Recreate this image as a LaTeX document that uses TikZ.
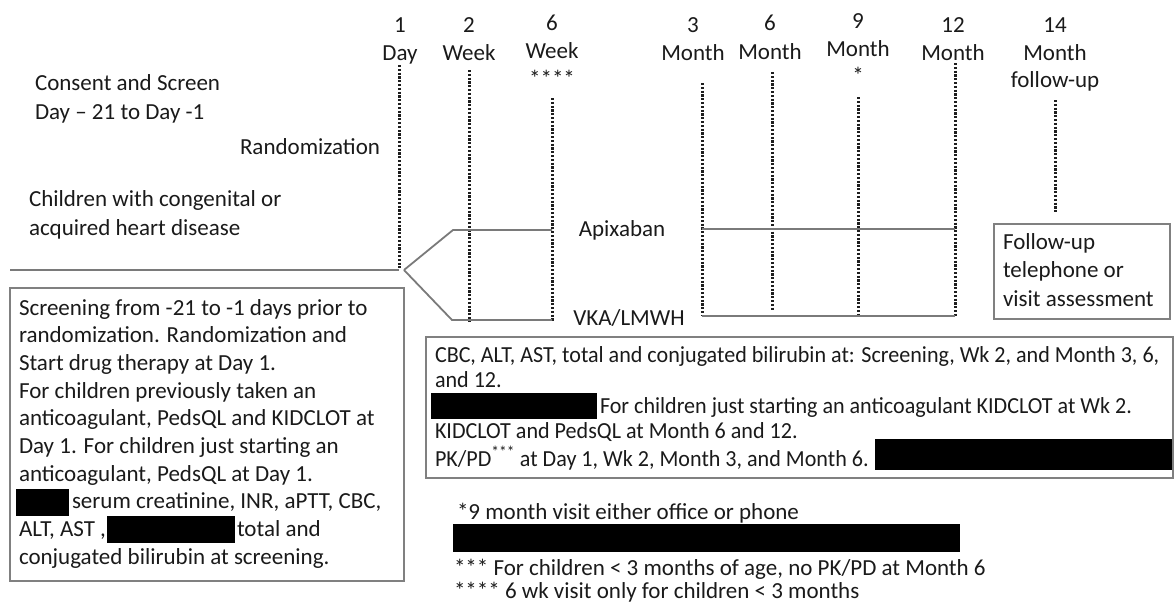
\documentclass[tikz,border=0pt]{standalone}
\usepackage{fontspec}
\setmainfont{Carlito}
\newfontfamily\condfont[FakeStretch=0.96]{Carlito}
\definecolor{ink}{HTML}{1A1A1A}
\definecolor{armc}{HTML}{7A7A7A}
\definecolor{dotc}{HTML}{1E1E1E}
\definecolor{boxc}{HTML}{808080}
\tikzset{
  txt/.style={inner sep=0pt, outer sep=0pt, text=ink},
  lbl/.style={txt, anchor=base, font=\fontsize{23}{27.7}\selectfont},
  lft/.style={txt, anchor=base west},
  visit/.style={draw=dotc, line width=3pt, dash pattern=on 2.2pt off 1.6pt},
  arm/.style={draw=armc, line width=1.8pt},
  box/.style={draw=boxc, line width=1.8pt, inner sep=0pt, anchor=north west},
  redact/.style={fill=black},
}
\begin{document}
\begin{tikzpicture}[x=1pt,y=-1pt]
\useasboundingbox (0,0) rectangle (1174,605);

% timepoint labels
\node[lbl] (d1n) at (400,32) {1};
\node[lbl] (d1w) at (400,60) {Day};
\node[lbl] (w2n) at (469,32) {2};
\node[lbl] (w2w) at (469,60) {Week};
\node[lbl] (w6n) at (552,30) {6};
\node[lbl] (w6w) at (552,58) {Week};
\node[lbl] (w6s) at (552,86) {****};
\node[lbl] (m3n) at (693,32) {3};
\node[lbl] (m3w) at (693,60) {Month};
\node[lbl] (m6n) at (770,30) {6};
\node[lbl] (m6w) at (770,59) {Month};
\node[lbl] (m9n) at (858,28) {9};
\node[lbl] (m9w) at (858,56) {Month};
\node[lbl] (m9s) at (858,83) {*};
\node[lbl] (m12n) at (953,32) {12};
\node[lbl] (m12w) at (953,60) {Month};
\node[lbl] (m14n) at (1055,32) {14};
\node[lbl] (m14w) at (1055,60) {Month};
\node[lbl] (m14f) at (1055,87) {follow-up};

% left texts
\node[lft, font=\fontsize{23}{29}\selectfont] (consent) at (35,90)
  {\begin{tabular}[t]{@{}l@{}}Consent and Screen\\Day – 21 to Day -1\end{tabular}};
\node[lft, font=\fontsize{23}{29}\selectfont] (rand) at (240,154) {Randomization};
\node[lft, font=\fontsize{23}{29}\selectfont] (pop) at (29,206)
  {\begin{tabular}[t]{@{}l@{}}Children with congenital or\\acquired heart disease\end{tabular}};

% visit lines
\coordinate (d1t) at (399,65);   \coordinate (d1b) at (399,268);
\coordinate (w2t) at (469,70);   \coordinate (w2b) at (469,322);
\coordinate (w6t) at (552,98);   \coordinate (w6b) at (552,321);
\coordinate (m3t) at (702,83);   \coordinate (m3b) at (702,316);
\coordinate (m6t) at (772,72);   \coordinate (m6b) at (772,311);
\coordinate (m9t) at (858,97);   \coordinate (m9b) at (858,316);
\coordinate (m12t) at (955,63);  \coordinate (m12b) at (955,316);
\coordinate (m14t) at (1055,100); \coordinate (m14b) at (1055,212);
\foreach \v in {d1,w2,w6,m3,m6,m9,m12,m14} \draw[visit] (\v t) -- (\v b);

% arms
\coordinate (start) at (10,270);
\coordinate (mainend) at (399,270);
\coordinate (split) at (404,270);
\coordinate (au) at (453,230);
\coordinate (ae) at (552,230);
\coordinate (vd) at (452,320);
\coordinate (ve) at (552,320);
\coordinate (a2s) at (702,229);
\coordinate (a2e) at (955,229);
\coordinate (v2s) at (702,316);
\coordinate (v2e) at (955,316);
\draw[arm] (start) -- (mainend);
\draw[arm] (split) -- (au) -- (ae);
\draw[arm] (split) -- (vd) -- (ve);
\draw[arm] (a2s) -- (a2e);
\draw[arm] (v2s) -- (v2e);
\node[lbl] (apix) at (622,236) {Apixaban};
\node[lbl] (vka) at (629,325) {VKA/LMWH};

% boxes
\node[box, minimum width=394pt, minimum height=293pt] (scrbox) at (9,287) {};
\node[box, minimum width=747pt, minimum height=141pt] (labbox) at (425,336) {};
\node[box, minimum width=176pt, minimum height=95pt] (fubox) at (993,223) {};

% redactions
\fill[redact] (16,489) rectangle (69,516);
\fill[redact] (107,516) rectangle (235,543);
\fill[redact] (431,393) rectangle (597,419);
\fill[redact] (875,439) rectangle (1172,470);
\fill[redact] (453,524) rectangle (960,552);

% box texts
\node[lft, font=\fontsize{23}{27.7}\selectfont] (scrtext) at (19,315)
  {\begin{tabular}[t]{@{}l@{}}
   Screening from -21 to -1 days prior to\\
   randomization. Randomization and\\
   Start drug therapy at Day 1.\\
   For children previously taken an\\
   anticoagulant, PedsQL and KIDCLOT at\\
   Day 1. For children just starting an\\
   anticoagulant, PedsQL at Day 1.\\
   \hspace*{53pt}serum creatinine, INR, aPTT, CBC,\\
   \makebox[218pt][l]{ALT, AST ,}total and\\
   conjugated bilirubin at screening.
  \end{tabular}};
\node[lft, font=\condfont\fontsize{23}{25.5}\selectfont] (labtext) at (435,362)
  {\begin{tabular}[t]{@{}l@{}}
   CBC, ALT, AST, total and conjugated bilirubin at: Screening, Wk 2, and Month 3, 6,\\
   and 12.\\
   \hspace*{165pt}For children just starting an anticoagulant KIDCLOT at Wk 2.\\
   KIDCLOT and PedsQL at Month 6 and 12.\\
   PK/PD\textsuperscript{***} at Day 1, Wk 2, Month 3, and Month 6.
  \end{tabular}};
\node[lft, font=\fontsize{23}{28.5}\selectfont] (futext) at (1003,249)
  {\begin{tabular}[t]{@{}l@{}}Follow-up\\telephone or\\visit assessment\end{tabular}};

% footnotes
\node[lft, font=\fontsize{23}{27}\selectfont] (fn1) at (457,519) {*9 month visit either office or phone};
\node[lft, font=\fontsize{23}{27}\selectfont] (fn3) at (454,575) {*** For children < 3 months of age, no PK/PD at Month 6};
\node[lft, font=\fontsize{23}{27}\selectfont] (fn4) at (454,598) {**** 6 wk visit only for children < 3 months};
\end{tikzpicture}
\end{document}
